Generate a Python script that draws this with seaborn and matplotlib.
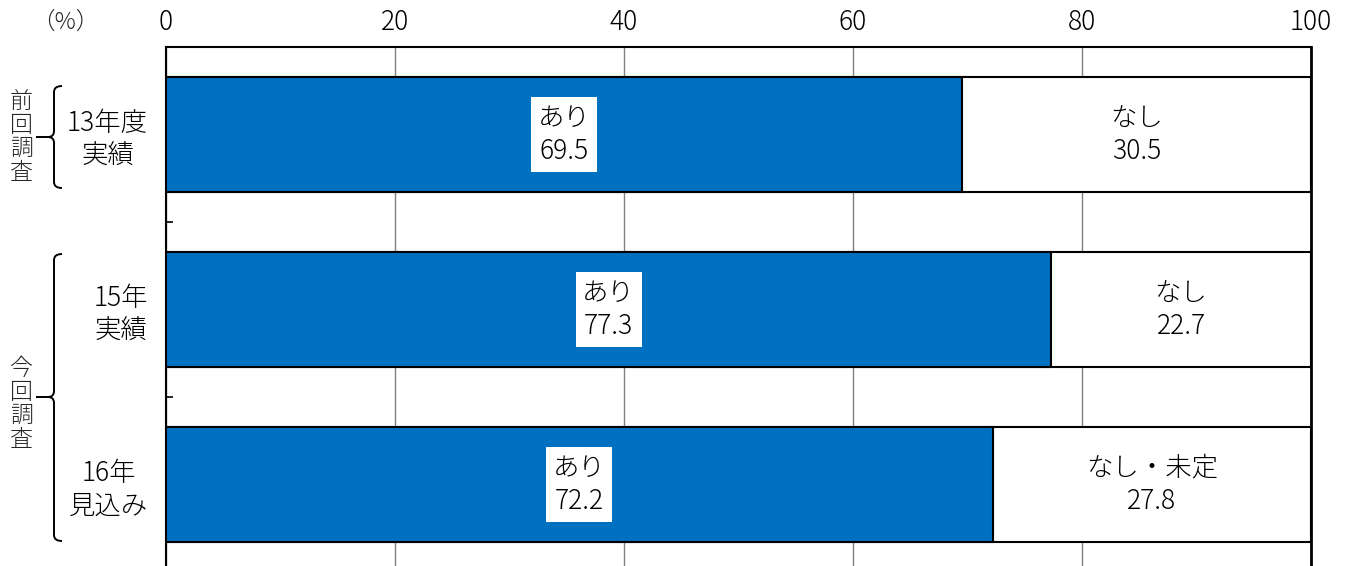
import matplotlib
matplotlib.use("Agg")
import matplotlib.pyplot as plt
from matplotlib.path import Path
from matplotlib.patches import PathPatch
from matplotlib.transforms import Affine2D
from matplotlib.ticker import FixedLocator
import seaborn as sns
import pandas as pd

# ---- data ----
categories = ["13年度\n実績", "15年\n実績", "16年\n見込み"]
ari_values = [69.5, 77.3, 72.2]
nashi_values = [30.5, 22.7, 27.8]
ari_labels = ["あり", "あり", "あり"]
nashi_labels = ["なし", "なし", "なし・未定"]
x_ticks = [0, 20, 40, 60, 80, 100]
group_labels = ["前回調査", "今回調査"]

sns.set_theme(style="white")
plt.rcParams["font.family"] = ["Noto Sans CJK JP", "DejaVu Sans"]
plt.rcParams["font.weight"] = "light"

W, H = 1350, 566
fig = plt.figure(figsize=(W / 100, H / 100), dpi=100)
ax = fig.add_axes([166 / W, -0.0106, 1145 / W, 0.9276])

df = pd.DataFrame({
    "category": categories,
    "ari": ari_values,
    "total": [a + n for a, n in zip(ari_values, nashi_values)],
})

blue = "#0070C0"
bar_w = 0.657
fs = 19
sns.barplot(data=df, x="total", y="category", orient="h", color="white",
            edgecolor="black", linewidth=1.5, width=bar_w, saturation=1,
            ax=ax, zorder=3)
sns.barplot(data=df, x="ari", y="category", orient="h", color=blue,
            edgecolor="black", linewidth=1.5, width=bar_w, saturation=1,
            ax=ax, zorder=4)

ax.set_xlim(0, 100)
ax.set_ylim(2.5, -0.5)
ax.set_xlabel("")
ax.set_ylabel("")

# x axis on top
ax.xaxis.tick_top()
ax.set_xticks(x_ticks)
ax.set_xticklabels([str(t) for t in x_ticks], fontsize=fs)
ax.tick_params(axis="x", length=0, pad=8, colors="black")
ax.xaxis.grid(True, color="#808080", linewidth=1.0, zorder=0)
ax.set_axisbelow(True)

# y axis labels
ax.set_yticks(range(len(categories)))
ax.set_yticklabels(categories, fontsize=fs, ha="right", multialignment="center",
                   linespacing=1.2)
ax.tick_params(axis="y", which="major", length=0, pad=13, colors="black")
ax.yaxis.set_minor_locator(FixedLocator([0.5, 1.5]))
ax.tick_params(axis="y", which="minor", left=True, direction="in", length=5,
               width=1.2, color="black")

for side in ["top", "left", "right", "bottom"]:
    ax.spines[side].set_visible(True)
    ax.spines[side].set_color("black")
ax.spines["top"].set_linewidth(1.5)
ax.spines["left"].set_linewidth(1.5)
ax.spines["right"].set_linewidth(2.0)

# value labels
for i, (a, n) in enumerate(zip(ari_values, nashi_values)):
    ax.text(a / 2, i, f"{ari_labels[i]}\n{a:.1f}", ha="center", va="center",
            fontsize=fs, linespacing=1.25, color="black", zorder=6,
            bbox=dict(boxstyle="square,pad=0.25", facecolor="white", edgecolor="none"))
    ax.text(a + n / 2, i, f"{nashi_labels[i]}\n{n:.1f}", ha="center", va="center",
            fontsize=fs, linespacing=1.25, color="black", zorder=6)

# percent unit
px = Affine2D().scale(1 / W, -1 / H).translate(0, 1) + fig.transFigure
fig.text(65, 22, "（%）", transform=px, ha="center", va="center", fontsize=17)


def brace(y0, y1, ymid, x=54, hook=62, tip=36):
    verts = [
        (hook, y0), (x, y0), (x, y0 + 6),
        (x, ymid - 6),
        (x, ymid), (x - 6, ymid),
        (tip, ymid),
        (x - 6, ymid), (x, ymid), (x, ymid + 6),
        (x, y1 - 6),
        (x, y1), (hook, y1),
    ]
    codes = [Path.MOVETO, Path.CURVE3, Path.CURVE3,
             Path.LINETO,
             Path.CURVE3, Path.CURVE3,
             Path.LINETO,
             Path.MOVETO, Path.CURVE3, Path.CURVE3,
             Path.LINETO,
             Path.CURVE3, Path.CURVE3]
    fig.patches.append(PathPatch(Path(verts, codes), transform=px,
                                 facecolor="none", edgecolor="black",
                                 linewidth=1.4, figure=fig))


brace(86, 188, 137)
brace(254, 541, 397)

for label, yc in zip(group_labels, [137, 404]):
    fig.text(21, yc, "\n".join(label), transform=px, ha="center", va="center",
             fontsize=16.5, linespacing=0.92)

fig.savefig("out.png", dpi=100)
